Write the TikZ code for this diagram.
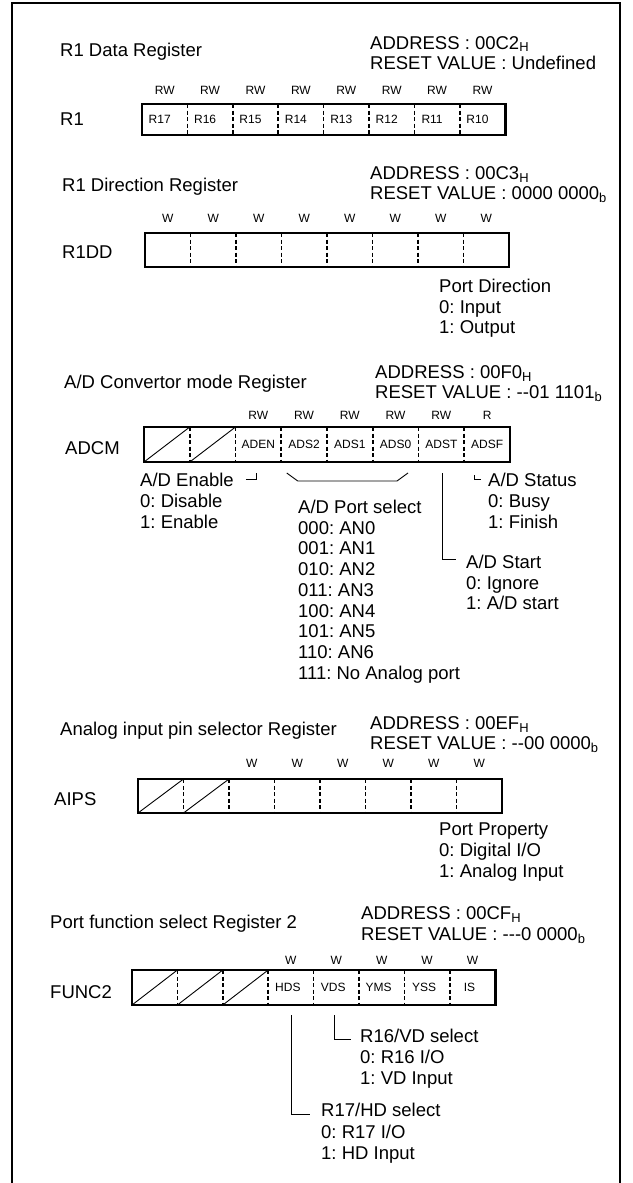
\documentclass[tikz,border=0pt]{standalone}
\usepackage{fontspec}
\setmainfont{Liberation Sans}
\usetikzlibrary{calc}
\frenchspacing

\begin{document}
\begin{tikzpicture}[x=1pt, y=-1pt,
  big/.style={font=\fontsize{18.5}{21}\selectfont, inner sep=0pt, anchor=base west},
  small/.style={font=\fontsize{12}{14}\selectfont, inner sep=0pt},
  cell/.style={font=\fontsize{12}{14}\selectfont, inner sep=0pt, outer sep=0pt},
  regbox/.style={line width=2.7pt},
  divider/.style={line width=1.7pt, dash pattern=on 4pt off 2.5pt},
  unused/.style={line width=0.9pt},
  lead/.style={line width=0.9pt}]
  \useasboundingbox (0,0) rectangle (632,1183);

  % outer frame, open at the bottom
  \coordinate (fbl) at (12,1183);
  \coordinate (fbr) at (620,1183);
  \draw[line width=2pt] (fbl) |- (620,3) -- (fbr);

  % R1 Data Register
  \node[big] (r1title) at (60,56.5) {R1 Data Register};
  \node[big] (r1addr) at (370,49) {ADDRESS : 00C2\textsubscript{H}};
  \node[big] (r1reset) at (370,69) {RESET VALUE : Undefined};
  \node[big] (r1name) at (60,125.5) {R1};
  \foreach \t [count=\i] in {R17,R16,R15,R14,R13,R12,R11,R10} {
    \node[cell, minimum width=45.4pt, minimum height=31pt] (r1bit\i) at ({142+45.4*(\i-0.5)}, 119.5) {\t\hspace*{10pt}};
    \node[small] (r1rw\i) at ({142+45.4*(\i-0.5)}, 90) {RW};
  }
  \draw[regbox] (r1bit1.north west) rectangle (r1bit8.south east);
  \foreach \i in {1,...,7}
    \draw[divider] (r1bit\i.north east) -- (r1bit\i.south east);

  % R1 Direction Register
  \node[big] (ddtitle) at (62,191.5) {R1 Direction Register};
  \node[big] (ddaddr) at (370,179.5) {ADDRESS : 00C3\textsubscript{H}};
  \node[big] (ddreset) at (370,199.5) {RESET VALUE : 0000 0000\textsubscript{b}};
  \node[big] (ddname) at (62,258.5) {R1DD};
  \foreach \i in {1,...,8} {
    \node[cell, minimum width=45.5pt, minimum height=34pt] (ddbit\i) at ({145+45.5*(\i-0.5)}, 250) {};
    \node[small] (ddw\i) at ({145+45.5*(\i-0.5)}, 218) {W};
  }
  \draw[regbox] (ddbit1.north west) rectangle (ddbit8.south east);
  \foreach \i in {1,...,7}
    \draw[divider] (ddbit\i.north east) -- (ddbit\i.south east);
  \foreach \t [count=\k] in {Port Direction,0: Input,1: Output}
    \node[big] (pdir\k) at (439, {292.5+20.5*(\k-1)}) {\t};

  % A/D Convertor mode Register
  \node[big] (adtitle) at (64,388.5) {A/D Convertor mode Register};
  \node[big] (adaddr) at (375,378.5) {ADDRESS : 00F0\textsubscript{H}};
  \node[big] (adreset) at (375,398.5) {RESET VALUE : -{}-01 1101\textsubscript{b}};
  \node[big] (adname) at (65,454.5) {ADCM};
  \foreach \t [count=\i] in {{},{},ADEN,ADS2,ADS1,ADS0,ADST,ADSF}
    \node[cell, minimum width=45.75pt, minimum height=35pt] (adbit\i) at ({144+45.75*(\i-0.5)}, 444.5) {\t};
  \foreach \a [count=\i from 3] in {RW,RW,RW,RW,RW,R}
    \node[small] (adrw\i) at ({144+45.75*(\i-0.5)}, 415) {\a};
  \draw[regbox] (adbit1.north west) rectangle (adbit8.south east);
  \foreach \i in {1,...,7}
    \draw[divider] (adbit\i.north east) -- (adbit\i.south east);
  \foreach \i in {1,2}
    \draw[unused] (adbit\i.south west) -- (adbit\i.north east);

  \foreach \t [count=\k] in {A/D Enable,0: Disable,1: Enable}
    \node[big] (aden\k) at (140, {486.5+21*(\k-1)}) {\t};
  \draw[lead] ([xshift=12pt]aden1.east) -| ($(adbit3.south)+(-2,11)$);

  \draw[lead] ($(adbit4.south west)+(5.5,11)$) -- ($(adbit4.south west)+(16.5,19)$)
    -- ($(adbit6.south east)+(-21.5,19)$) -- ($(adbit6.south east)+(-10.5,11)$);
  \foreach \t [count=\k] in {A/D Port select,000: AN0,001: AN1,010: AN2,011: AN3,100: AN4,101: AN5,110: AN6,111: No Analog port}
    \node[big] (adsel\k) at (298, {513.5+20.7*(\k-1)}) {\t};

  \foreach \t [count=\k] in {A/D Start,0: Ignore,1: A/D start}
    \node[big] (adst\k) at (466, {568.5+20.5*(\k-1)}) {\t};
  \draw[lead] ($(adbit7.south)+(1.5,11)$) |- ([xshift=-10pt,yshift=2pt]adst1.west);

  \foreach \t [count=\k] in {A/D Status,0: Busy,1: Finish}
    \node[big] (adsf\k) at (488, {486.5+21*(\k-1)}) {\t};
  \draw[lead] ($(adbit8.south)+(-13,13)$) |- ([xshift=-7pt]adsf1.west);

  % Analog input pin selector Register
  \node[big] (aptitle) at (60,735.5) {Analog input pin selector Register};
  \node[big] (apaddr) at (370,729.5) {ADDRESS : 00EF\textsubscript{H}};
  \node[big] (apreset) at (370,749.5) {RESET VALUE : -{}-00 0000\textsubscript{b}};
  \node[big] (apname) at (54,805.5) {AIPS};
  \foreach \i in {1,...,8}
    \node[cell, minimum width=45.5pt, minimum height=34pt] (apbit\i) at ({138+45.5*(\i-0.5)}, 796) {};
  \foreach \i in {3,...,8}
    \node[small] (apw\i) at ({138+45.5*(\i-0.5)}, 763) {W};
  \draw[regbox] (apbit1.north west) rectangle (apbit8.south east);
  \foreach \i in {1,...,7}
    \draw[divider] (apbit\i.north east) -- (apbit\i.south east);
  \foreach \i in {1,2}
    \draw[unused] (apbit\i.south west) -- (apbit\i.north east);
  \foreach \t [count=\k] in {Port Property,0: Digital I/O,1: Analog Input}
    \node[big] (pprop\k) at (439, {835.5+21*(\k-1)}) {\t};

  % Port function select Register 2
  \node[big] (fntitle) at (50,928.5) {Port function select Register 2};
  \node[big] (fnaddr) at (361,919.5) {ADDRESS : 00CF\textsubscript{H}};
  \node[big] (fnreset) at (361,940.5) {RESET VALUE : -{}-{}-0 0000\textsubscript{b}};
  \node[big] (fnname) at (50,998.5) {FUNC2};
  \foreach \t [count=\i] in {{},{},{},HDS,VDS,YMS,YSS,IS}
    \node[cell, minimum width=45.4pt, minimum height=35pt] (fnbit\i) at ({132+45.4*(\i-0.5)}, 987.5) {\t\hspace*{6pt}};
  \foreach \i in {4,...,8}
    \node[small] (fnw\i) at ({132+45.4*(\i-0.5)}, 960) {W};
  \draw[regbox] (fnbit1.north west) rectangle (fnbit8.south east);
  \foreach \i in {1,...,7}
    \draw[divider] (fnbit\i.north east) -- (fnbit\i.south east);
  \foreach \i in {1,2,3}
    \draw[unused] (fnbit\i.south west) -- (fnbit\i.north east);

  \foreach \t [count=\k] in {R16/VD select,0: R16 I/O,1: VD Input}
    \node[big] (rvd\k) at (360, {1042.5+21*(\k-1)}) {\t};
  \draw[lead] ($(fnbit5.south)+(-1.5,10)$) |- ([xshift=-9pt,yshift=-4pt]rvd1.west);

  \foreach \t [count=\k] in {R17/HD select,0: R17 I/O,1: HD Input}
    \node[big] (rhd\k) at (321, {1116.5+21.5*(\k-1)}) {\t};
  \draw[lead] ($(fnbit4.south)+(1,10)$) |- ([xshift=-11pt,yshift=-5pt]rhd1.west);
\end{tikzpicture}
\end{document}
